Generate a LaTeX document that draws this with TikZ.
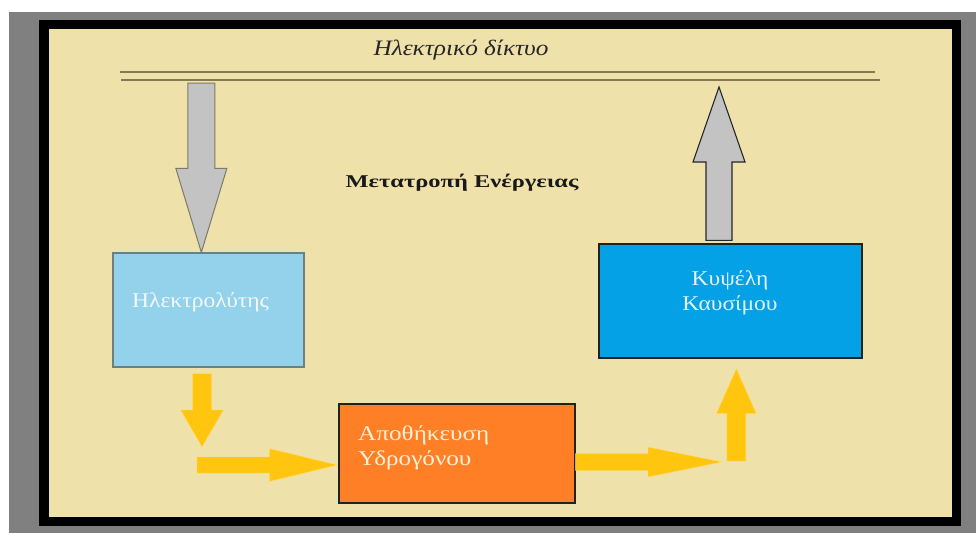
\documentclass[tikz,border=0pt]{standalone}
\usepackage{fontspec}
\setmainfont{Liberation Serif}
\usetikzlibrary{calc}
\definecolor{beigebg}{HTML}{EFE1AA}
\definecolor{outergray}{HTML}{808080}
\definecolor{gridline}{HTML}{857955}
\definecolor{lightblue}{HTML}{93D2EA}
\definecolor{lightblueedge}{HTML}{707F7D}
\definecolor{brightblue}{HTML}{05A1E6}
\definecolor{boxedge}{HTML}{222222}
\definecolor{orangebox}{HTML}{FF7F27}
\definecolor{goldarrow}{HTML}{FFC50F}
\definecolor{grayarrow}{HTML}{C3C3C3}
\definecolor{grayarrowedge}{HTML}{7A7A66}
\definecolor{textlight}{HTML}{F2F8FA}
\definecolor{textcream}{HTML}{FFF0D6}
\definecolor{textsky}{HTML}{E2F3FC}
\newcommand{\vblockarrow}[6]{%
  \coordinate (vbtmp) at (#3 |- #2);
  \draw[#1] ($(vbtmp)+(-#4,0)$) -- ($(#3)+(-#4,#6)$) -- ($(#3)+(-#5,#6)$) -- (#3)
    -- ($(#3)+(#5,#6)$) -- ($(#3)+(#4,#6)$) -- ($(vbtmp)+(#4,0)$) -- cycle;}
\newcommand{\hblockarrow}[6]{%
  \coordinate (hbtmp) at (#2 |- #3);
  \draw[#1] ($(hbtmp)+(0,-#4)$) -- ($(#3)+(#6,-#4)$) -- ($(#3)+(#6,-#5)$) -- (#3)
    -- ($(#3)+(#6,#5)$) -- ($(#3)+(#6,#4)$) -- ($(hbtmp)+(0,#4)$) -- cycle;}
\tikzset{
  graydn/.style={fill=grayarrow, draw=grayarrowedge, line width=1pt},
  grayup/.style={fill=grayarrow, draw=black!85, line width=1.1pt},
  goldarr/.style={fill=goldarrow, draw=goldarrow!60!white, line width=0.4pt},
  boxtext/.style={font=\fontsize{21}{25}\selectfont, align=left, inner sep=0pt, xscale=1.12}
}
\begin{document}
\begin{tikzpicture}[x=1pt,y=-1pt]
\useasboundingbox (0,0) rectangle (976,533);
\fill[white] (0,0) rectangle (976,533);
\fill[outergray] (9,12) rectangle (976,533);
\fill[black] (39,20) rectangle (961,526);
\fill[beigebg] (49,29) rectangle (952,517);
% grid lines
\draw[gridline, line width=1.6pt] (120,72) -- (875,72);
\draw[gridline, line width=1.6pt] (121,80) -- (880,80);
\node[font=\itshape\fontsize{22}{26}\selectfont, xscale=1.15, text=black!85] (grid) at (461,50) {Ηλεκτρικό δίκτυο};
\node[font=\bfseries\fontsize{18}{21}\selectfont, xscale=1.36, text=black!90] (conv) at (462,183) {Μετατροπή Ενέργειας};
% boxes
\node[draw=lightblueedge, fill=lightblue, line width=1.3pt, minimum width=191pt, minimum height=114pt, inner sep=0pt] (elec) at (208.5,310) {};
\node[boxtext, text=textlight, anchor=west] (electxt) at (132,302) {Ηλεκτρολύτης};
\node[draw=boxedge, fill=brightblue, line width=1.3pt, minimum width=263pt, minimum height=114pt, inner sep=0pt] (fuel) at (730.5,301) {};
\node[boxtext, text=textsky, align=center] (fueltxt) at (730,292.5) {Κυψέλη\\Καυσίμου};
\node[draw=boxedge, fill=orangebox, line width=1.3pt, minimum width=236pt, minimum height=99pt, inner sep=0pt] (stor) at (457,453.5) {};
\node[boxtext, xscale=1.07, text=textcream, anchor=west] (stortxt) at (358,447.5) {Αποθήκευση\\Υδρογόνου};
% arrow end points
\coordinate (gdS) at (201.5,83);
\coordinate (gdT) at ($(elec.north west)+(89,0)$);
\coordinate (guS) at ($(fuel.north west)+(120,-3)$);
\coordinate (guT) at (719,87);
\coordinate (ydS) at ($(elec.south west)+(89.5,6)$);
\coordinate (ydT) at (202,447);
\coordinate (yr1S) at (197,465);
\coordinate (yr1T) at ($(stor.west)+(-1,11.5)$);
\coordinate (yr2S) at ($(stor.east)+(0,8)$);
\coordinate (yr2T) at (722,462);
\coordinate (yuS) at (736.5,461);
\coordinate (yuT) at ($(fuel.south west)+(138,10)$);
% block arrows
\vblockarrow{graydn}{gdS}{gdT}{13.5}{25.5}{-84}
\vblockarrow{grayup}{guS}{guT}{13}{26}{75}
\vblockarrow{goldarr}{ydS}{ydT}{9.5}{21.5}{-37}
\hblockarrow{goldarr}{yr1S}{yr1T}{8}{16.5}{-68}
\hblockarrow{goldarr}{yr2S}{yr2T}{8.5}{15}{-74}
\vblockarrow{goldarr}{yuS}{yuT}{9.5}{20}{45}
\end{tikzpicture}
\end{document}
